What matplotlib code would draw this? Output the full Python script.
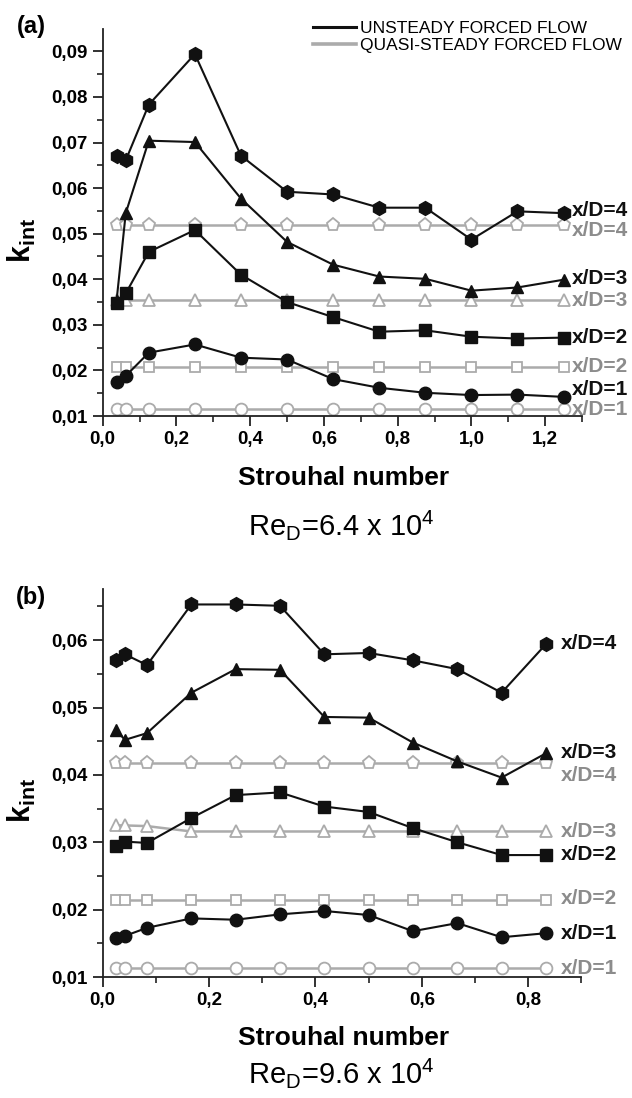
import matplotlib
matplotlib.use("Agg")
import matplotlib.pyplot as plt
from matplotlib.lines import Line2D
from matplotlib.ticker import MultipleLocator, FuncFormatter

plt.rcParams['font.family'] = ['Liberation Sans', 'DejaVu Sans']

# (a) Re_D = 6.4e4
st_a = [0.0375, 0.0625, 0.125, 0.25, 0.375, 0.5, 0.625, 0.75, 0.875, 1.0, 1.125, 1.25]
a_xd4 = [0.0670, 0.0661, 0.0783, 0.0894, 0.0671, 0.0592, 0.0586, 0.0557, 0.0557, 0.0487, 0.0549, 0.0545]
a_xd3 = [0.0352, 0.0545, 0.0704, 0.0701, 0.0577, 0.0482, 0.0432, 0.0406, 0.0401, 0.0375, 0.0382, 0.0399]
a_xd2 = [0.0347, 0.0369, 0.0460, 0.0508, 0.0410, 0.0350, 0.0317, 0.0285, 0.0288, 0.0274, 0.0270, 0.0272]
a_xd1 = [0.0175, 0.0188, 0.0239, 0.0257, 0.0228, 0.0224, 0.0181, 0.0162, 0.0151, 0.0146, 0.0147, 0.0142]
a_qs4 = [0.0518] * 12
a_qs3 = [0.0354] * 12
a_qs2 = [0.0208] * 12
a_qs1 = [0.0115] * 12

# (b) Re_D = 9.6e4
st_b = [0.025, 0.0417, 0.0833, 0.1667, 0.25, 0.3333, 0.4167, 0.5, 0.5833, 0.6667, 0.75, 0.8333]
b_xd4 = [0.0570, 0.0579, 0.0563, 0.0653, 0.0653, 0.0651, 0.0579, 0.0581, 0.0570, 0.0557, 0.0522, 0.0594]
b_xd3 = [0.0467, 0.0452, 0.0462, 0.0522, 0.0557, 0.0556, 0.0486, 0.0485, 0.0448, 0.0420, 0.0396, 0.0432]
b_xd2 = [0.0294, 0.0301, 0.0299, 0.0336, 0.0370, 0.0374, 0.0353, 0.0345, 0.0321, 0.0300, 0.0281, 0.0281]
b_xd1 = [0.0158, 0.0161, 0.0173, 0.0187, 0.0185, 0.0193, 0.0198, 0.0192, 0.0168, 0.0180, 0.0159, 0.0165]
b_qs4 = [0.0417] * 12
b_qs3 = [0.0325, 0.0325, 0.0324, 0.0316, 0.0316, 0.0316, 0.0316, 0.0316, 0.0316, 0.0316, 0.0316, 0.0316]
b_qs2 = [0.0214] * 12
b_qs1 = [0.0113] * 12

# right hand labels: (text, y, unsteady?)
labels_a = [("x/D=4", 0.0551, True), ("x/D=4", 0.0507, False),
            ("x/D=3", 0.0401, True), ("x/D=3", 0.0354, False),
            ("x/D=2", 0.0272, True), ("x/D=2", 0.0208, False),
            ("x/D=1", 0.0158, True), ("x/D=1", 0.0115, False)]
labels_b = [("x/D=4", 0.0595, True), ("x/D=3", 0.0433, True),
            ("x/D=4", 0.0399, False), ("x/D=3", 0.0316, False),
            ("x/D=2", 0.0282, True), ("x/D=2", 0.0217, False),
            ("x/D=1", 0.0165, True), ("x/D=1", 0.0113, False)]

BLACK = '#111111'
GREY_LINE = '#ababab'
GREY_TEXT = '#8c8c8c'


def comma(fmt):
    return FuncFormatter(lambda v, p: (fmt % v).replace('.', ','))


def draw_panel(ax, st, unsteady, quasi, labels, xmax, ymax, label_x):
    qmarkers = [('p', 9.5), ('^', 8.5), ('s', 7.5), ('o', 8.5)]
    umarkers = [('h', 10), ('^', 9), ('s', 8), ('o', 9)]
    for vals, (m, ms) in zip(quasi, qmarkers):
        ax.plot(st, vals, color=GREY_LINE, lw=1.8, marker=m, ms=ms,
                mfc='white', mec=GREY_LINE, mew=1.3, zorder=2)
    for vals, (m, ms) in zip(unsteady, umarkers):
        ax.plot(st, vals, color=BLACK, lw=1.5, marker=m, ms=ms,
                mfc=BLACK, mec=BLACK, zorder=3)
    for txt, y, uns in labels:
        ax.text(label_x, y, txt, color=BLACK if uns else GREY_TEXT,
                fontsize=15, fontweight='bold', va='center', ha='left',
                clip_on=False, zorder=4)

    ax.set_xlim(0, xmax)
    ax.set_ylim(0.01, ymax)
    for s in ['top', 'right']:
        ax.spines[s].set_visible(False)
    for s in ['left', 'bottom']:
        ax.spines[s].set_linewidth(1.3)
        ax.spines[s].set_color('#222222')
    ax.xaxis.set_major_locator(MultipleLocator(0.2))
    ax.xaxis.set_minor_locator(MultipleLocator(0.1))
    ax.yaxis.set_major_locator(MultipleLocator(0.01))
    ax.yaxis.set_minor_locator(MultipleLocator(0.005))
    ax.xaxis.set_major_formatter(comma('%.1f'))
    ax.yaxis.set_major_formatter(comma('%.2f'))
    ax.tick_params(which='major', direction='out', length=7, width=1.3,
                   labelsize=13.5, pad=4, color='#222222')
    ax.tick_params(which='minor', direction='out', length=4, width=1.2,
                   color='#222222')
    for lab in ax.get_xticklabels() + ax.get_yticklabels():
        lab.set_fontweight('bold')


def main():
    fig = plt.figure(figsize=(6.32, 10.98), dpi=100)

    ax_a = fig.add_axes([0.1625, 0.6211, 0.7584, 0.3525])
    draw_panel(ax_a, st_a, [a_xd4, a_xd3, a_xd2, a_xd1],
               [a_qs4, a_qs3, a_qs2, a_qs1], labels_a, 1.3, 0.0949, 1.273)

    ax_b = fig.add_axes([0.1625, 0.1102, 0.7574, 0.3534])
    draw_panel(ax_b, st_b, [b_xd4, b_xd3, b_xd2, b_xd1],
               [b_qs4, b_qs3, b_qs2, b_qs1], labels_b, 0.9, 0.0676, 0.861)

    # legend of panel (a)
    handles = [Line2D([], [], color=BLACK, lw=2.2),
               Line2D([], [], color=GREY_LINE, lw=2.6)]
    fig.legend(handles, ['UNSTEADY FORCED FLOW', 'QUASI-STEADY FORCED FLOW'],
               loc='upper left', bbox_to_anchor=(0.495, 0.981), frameon=False,
               fontsize=12.5, handlelength=2.5, handletextpad=0.2,
               labelspacing=0.1, borderpad=0, borderaxespad=0)

    # panel letters, axis titles
    fig.text(0.049, 0.976, '(a)', fontsize=17, fontweight='bold', ha='center', va='center')
    fig.text(0.049, 0.4554, '(b)', fontsize=17, fontweight='bold', ha='center', va='center')
    for y in [0.5647, 0.0546]:
        fig.text(0.543, y, 'Strouhal number', fontsize=19, fontweight='bold',
                 ha='center', va='center')
    fig.text(0.540, 0.5219, r'Re$_\mathregular{D}$=6.4 x 10$^\mathregular{4}$',
             fontsize=21, ha='center', va='center')
    fig.text(0.540, 0.0228, r'Re$_\mathregular{D}$=9.6 x 10$^\mathregular{4}$',
             fontsize=21, ha='center', va='center')
    for y in [0.781, 0.2714]:
        fig.text(0.035, y, r'k$_\mathregular{int}$', fontsize=22, fontweight='bold',
                 rotation=90, ha='center', va='center')

    fig.savefig('out.png', dpi=100)


if __name__ == '__main__':
    main()
